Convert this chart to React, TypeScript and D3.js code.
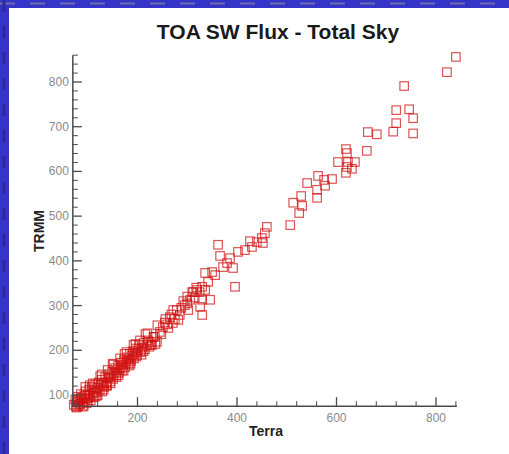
import * as d3 from 'd3'

// Terra vs TRMM TOA SW flux (W/m2)
const terra = [
  72, 75, 76, 78, 80, 81, 83, 85, 86, 88, 90, 91, 93, 95, 96, 98, 100, 101, 103, 105,
  106, 108, 110, 111, 113, 115, 117, 119, 120, 122, 124, 126, 128, 129, 131, 133, 135, 137, 139, 141,
  143, 145, 147, 149, 151, 153, 155, 157, 159, 161, 163, 165, 167, 169, 171, 173, 175, 177, 179, 181,
  183, 185, 187, 189, 191, 193, 195, 197, 199, 201, 203, 206, 209, 212, 215, 218, 221, 224, 228, 232,
  236, 229, 235, 239, 245, 251, 255, 260, 265, 268, 271, 275, 279, 285, 288, 295, 300, 300, 306, 310,
  315, 318, 320, 325, 326, 330, 330, 330, 336, 336, 342, 346, 350, 356, 362, 366, 372, 380, 386, 392,
  396, 402, 416, 426, 430, 440, 450, 456, 460, 452, 507, 513, 525, 529, 531, 541, 561, 561, 563, 575,
  577, 591, 603, 619, 619, 621, 621, 623, 631, 637, 661, 663, 681, 714, 720, 720, 736, 746, 754, 754,
  822, 840, 78, 84, 92, 80, 88,
  95, 100, 110, 118, 125, 132, 140, 146, 152, 158, 165, 172, 178, 186, 192, 198, 205, 212, 220, 226,
  104, 114, 128, 138, 150, 162, 174, 184, 196, 208, 216, 240, 248, 256, 262, 272, 282, 292, 302, 312,
]
const trmm = [
  78, 90, 74, 84, 96, 76, 88, 80, 102, 92, 74, 85, 98, 90, 108, 82, 100, 93, 112, 98,
  88, 118, 104, 95, 110, 124, 106, 116, 100, 128, 112, 122, 134, 108, 126, 118, 140, 128, 122, 138,
  146, 130, 142, 152, 136, 148, 160, 144, 156, 166, 150, 160, 172, 156, 168, 178, 162, 174, 184, 170,
  180, 192, 176, 188, 198, 182, 194, 204, 190, 200, 212, 196, 206, 216, 202, 212, 222, 208, 218, 230,
  214, 212, 230, 219, 241, 252, 262, 258, 274, 280, 261, 270, 290, 279, 295, 301, 305, 320, 313, 330,
  318, 340, 335, 330, 297, 279, 313, 342, 373, 335, 353, 313, 375, 368, 436, 411, 386, 395, 406, 384,
  342, 420, 424, 444, 431, 442, 451, 462, 476, 440, 480, 530, 507, 545, 523, 574, 559, 541, 590, 581,
  568, 583, 621, 650, 597, 641, 610, 621, 606, 621, 646, 688, 683, 689, 737, 708, 791, 739, 719, 685,
  822, 856, 72, 80, 76, 86, 94,
  118, 84, 126, 98, 142, 112, 156, 126, 168, 140, 182, 154, 196, 170, 212, 186, 222, 198, 238, 212,
  122, 96, 146, 120, 170, 144, 192, 166, 214, 190, 236, 256, 236, 270, 250, 290, 268, 310, 290, 330,
]

const xTicks = [200, 400, 600, 800]
const yTicks = [100, 200, 300, 400, 500, 600, 700, 800]

const W = 509
const H = 454
const RED = '#d01010'
const AXIS = '#4a4a4a'
const LABEL = '#8a8a8a'

export default function App() {
  const x = d3.scaleLinear().domain([0, 800]).range([38, 436])
  const y = d3.scaleLinear().domain([100, 800]).range([395, 82])

  const xMin = 70, xMax = 842
  const yMin = 75, yMax = 860
  const x0 = x(xMin)
  const y0 = y(yMin)

  const xMinor = d3.range(80, xMax, 40).filter(v => !xTicks.includes(v))
  const yMinor = d3.range(80, yMax + 1, 20).filter(v => !yTicks.includes(v))

  const pts = terra.map((t, i) => ({ t, r: trmm[i] }))
  const s = 8.5

  return (
    <svg
      width={W}
      height={H}
      style={{ position: 'absolute', left: 0, top: 0, display: 'block', background: '#fff' }}
      fontFamily="'Liberation Sans', Arial, sans-serif"
    >
      {/* blue frame on top and left */}
      <rect x={0} y={0} width={W} height={8} fill="#3434c8" />
      <rect x={0} y={0} width={9} height={H} fill="#3434c8" />
      <line x1={0} x2={W} y1={3.5} y2={3.5} stroke="#6c6ca8" strokeWidth={2} strokeDasharray="15 15" />
      <line x1={4} x2={4} y1={0} y2={H} stroke="#2a2aa0" strokeWidth={3} strokeDasharray="12 14" />

      <text x={278} y={39} textAnchor="middle" fontSize={21} fontWeight="bold" fill="#1a1a1a">
        TOA SW Flux - Total Sky
      </text>

      {/* points */}
      <g fill="none" stroke={RED} strokeWidth={1.2} strokeOpacity={0.72}>
        {pts.map((d, i) => (
          <rect key={i} x={x(d.t) - s / 2} y={y(d.r) - s / 2} width={s} height={s} />
        ))}
      </g>

      {/* axes */}
      <g stroke={AXIS}>
        <line x1={x0} x2={x(xMax)} y1={y0} y2={y0} strokeWidth={1.5} />
        <line x1={x0} x2={x0} y1={y0} y2={y(yMax)} strokeWidth={1.5} />
        {xTicks.map(v => (
          <line key={'xM' + v} x1={x(v)} x2={x(v)} y1={y0} y2={y0 - 9} strokeWidth={1.3} />
        ))}
        {xMinor.map(v => (
          <line key={'xm' + v} x1={x(v)} x2={x(v)} y1={y0} y2={y0 - 5} strokeWidth={1} />
        ))}
        {yTicks.map(v => (
          <line key={'yM' + v} x1={x0} x2={x0 + 9} y1={y(v)} y2={y(v)} strokeWidth={1.3} />
        ))}
        {yMinor.map(v => (
          <line key={'ym' + v} x1={x0} x2={x0 + 5} y1={y(v)} y2={y(v)} strokeWidth={1} />
        ))}
      </g>

      <g fill={LABEL} fontSize={12}>
        {xTicks.map(v => (
          <text key={'xl' + v} x={x(v)} y={y0 + 16} textAnchor="middle">{v}</text>
        ))}
        {yTicks.map(v => (
          <text key={'yl' + v} x={x0 - 4} y={y(v) + 4} textAnchor="end">{v}</text>
        ))}
      </g>

      <text x={266} y={436} textAnchor="middle" fontSize={14} fontWeight="bold" fill="#222">Terra</text>
      <text
        transform={`translate(44, 231) rotate(-90)`}
        textAnchor="middle"
        fontSize={14}
        fontWeight="bold"
        fill="#222"
      >
        TRMM
      </text>
    </svg>
  )
}
